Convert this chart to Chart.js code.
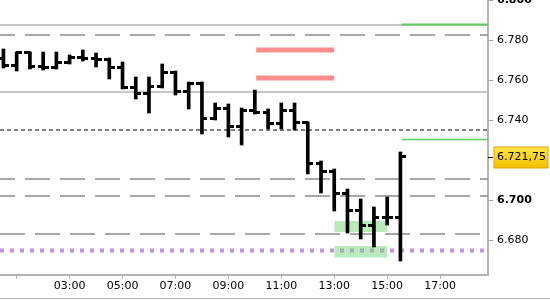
<!DOCTYPE html>
<html>
<head>
<meta charset="utf-8">
<script src="https://cdn.jsdelivr.net/npm/chart.js@4.4.1/dist/chart.umd.min.js"></script>
<style>
  html, body { margin: 0; padding: 0; background: #fff; }
  #wrap { width: 550px; height: 300px; position: relative; overflow: hidden; }
</style>
</head>
<body>
<div id="wrap"><canvas id="chart" width="550" height="300"></canvas></div>
<script>
// 30 min OHLC bars, x = hour of day
var times  = [0.5, 1, 1.5, 2, 2.5, 3, 3.5, 4, 4.5, 5, 5.5, 6, 6.5, 7, 7.5, 8,
              8.5, 9, 9.5, 10, 10.5, 11, 11.5, 12, 12.5, 13, 13.5, 14, 14.5, 15, 15.5];
var opens  = [6771, 6767.5, 6774, 6767, 6766.5, 6769, 6771.5, 6771, 6770.5, 6766.5, 6756.5, 6753.5, 6757, 6764, 6754.5, 6758.5,
              6741, 6746, 6737, 6745, 6744, 6738.5, 6745, 6739, 6718.5, 6714.5, 6703.5, 6695, 6687.5, 6691.5, 6691.5];
var highs  = [6775.5, 6774, 6774, 6774, 6774, 6772.5, 6775, 6773.5, 6771, 6769, 6761.5, 6761.5, 6768, 6764.5, 6759, 6759,
              6748.5, 6748, 6746, 6755, 6745.5, 6748.5, 6748.5, 6739, 6719.5, 6715.5, 6705.5, 6700.5, 6696.5, 6701.5, 6724];
var lows   = [6766, 6764.5, 6765.5, 6765, 6765.5, 6768, 6769.5, 6766.5, 6760.5, 6755.5, 6750.5, 6743.5, 6756, 6752.5, 6745.5, 6733,
              6740, 6731.5, 6727.5, 6743, 6735.5, 6735.5, 6735, 6713, 6703.5, 6694.5, 6683.5, 6680.5, 6676.5, 6687.5, 6669.5];
var closes = [6767.5, 6774, 6767, 6766.5, 6769, 6771.5, 6771, 6770.5, 6766.5, 6756.5, 6753.5, 6757, 6764, 6754.5, 6758.5, 6741,
              6746, 6737, 6745, 6744, 6738.5, 6745, 6739, 6718.5, 6714.5, 6703.5, 6695, 6687.5, 6691.5, 6691.5, 6721.75];

var xStart = 0.37, xEnd = 18.81;
var yMin = 6662.5, yMax = 6800;
var xTickHours = [1, 3, 5, 7, 9, 11, 13, 15, 17];
var yTickValues = [6680, 6700, 6740, 6760, 6780, 6800];

// horizontal levels
var solidLevels  = [6787.5, 6754];
var dashedLevels = [6782.5, 6710.5, 6702, 6683];
var blackDashLevel = 6735;
var purpleLevel = 6674.75;
var pinkLevels = [6775, 6761];
var pinkFrom = 10.05, pinkTo = 13.0;
var greenLevels = [6787.75, 6730.25];
var greenFrom = 15.55;
var boxLows  = [6684, 6671.25];
var boxHighs = [6689.5, 6677];
var boxFrom = 13.0, boxTo = 15.0;

var FONT = "'DejaVu Sans', sans-serif";
Chart.defaults.font.family = FONT;
Chart.defaults.font.size = 11;
Chart.defaults.color = "#000";

function fmt(v, dec) {
  var s = v.toFixed(dec).split(".");
  var whole = s[0].replace(/\B(?=(\d{3})+(?!\d))/g, ".");
  return dec ? whole + "," + s[1] : whole;
}

// open tick on the left, close tick on the right
function tickImage(side) {
  var c = document.createElement("canvas");
  c.width = 11; c.height = 3;
  var g = c.getContext("2d");
  g.fillStyle = "#000";
  if (side === "left") g.fillRect(0, 0, 6, 3);
  else g.fillRect(5, 0, 6, 3);
  return c;
}

function level(y, from, to, style) {
  return {
    type: "line",
    data: [{ x: from, y: y }, { x: to, y: y }],
    borderColor: style.color,
    borderWidth: style.width,
    borderDash: style.dash || [],
    borderDashOffset: style.offset || 0,
    borderCapStyle: "butt",
    pointRadius: 0,
    fill: false,
    order: style.order || 5
  };
}

var datasets = [];

datasets.push({
  type: "scatter",
  data: times.map(function (t, i) { return { x: t, y: opens[i] }; }),
  pointStyle: tickImage("left"), pointRadius: 3, order: 0
});
datasets.push({
  type: "scatter",
  data: times.map(function (t, i) { return { x: t, y: closes[i] }; }),
  pointStyle: tickImage("right"), pointRadius: 3, order: 0
});
datasets.push({
  type: "bar",
  data: times.map(function (t, i) { return { x: t, y: [lows[i], highs[i]] }; }),
  backgroundColor: "#000",
  borderWidth: 0,
  barThickness: 3,
  grouped: false,
  order: 1
});

// green zones: bottom edge, then top edge filled down to it
for (var b = 0; b < boxLows.length; b++) {
  datasets.push({
    type: "line",
    data: [{ x: boxFrom, y: boxLows[b] }, { x: boxTo, y: boxLows[b] }],
    borderWidth: 0, pointRadius: 0, fill: false, order: 2
  });
  datasets.push({
    type: "line",
    data: [{ x: boxFrom, y: boxHighs[b] }, { x: boxTo, y: boxHighs[b] }],
    borderWidth: 0, pointRadius: 0, fill: "-1",
    backgroundColor: "rgba(110, 212, 110, 0.48)", order: 2
  });
}

datasets.push(level(purpleLevel, xStart, xEnd, { color: "rgb(198, 143, 228)", width: 4, dash: [4, 6], order: 3 }));
solidLevels.forEach(function (v) {
  datasets.push(level(v, xStart, xEnd, { color: "#b4b4b4", width: 1.5 }));
});
dashedLevels.forEach(function (v, i) {
  datasets.push(level(v, xStart, xEnd, { color: "#8a8a8a", width: 1.5, dash: [25, 10], offset: i === 3 ? 0 : 10 }));
});
datasets.push(level(blackDashLevel, xStart, xEnd, { color: "#000", width: 1, dash: [4, 3] }));
pinkLevels.forEach(function (v) {
  datasets.push(level(v, pinkFrom, pinkTo, { color: "#ff8e8e", width: 5, order: 4 }));
});
datasets.push(level(greenLevels[0], greenFrom, xEnd, { color: "#5ccf5c", width: 2, order: 4 }));
datasets.push(level(greenLevels[1], greenFrom, xEnd, { color: "#5ccf5c", width: 1.5, order: 4 }));

var lastPricePlugin = {
  id: "lastPrice",
  afterDraw: function (chart) {
    var ctx = chart.ctx;
    var ys = chart.scales.y;
    var last = closes[closes.length - 1];
    var y = Math.round(ys.getPixelForValue(last)) + 0.5;
    var x0 = chart.chartArea.right;
    ctx.save();
    // frame line under the time labels
    ctx.strokeStyle = "#b4b4b4";
    ctx.lineWidth = 1;
    ctx.beginPath();
    ctx.moveTo(0, chart.height - 1.5);
    ctx.lineTo(chart.width, chart.height - 1.5);
    ctx.stroke();
    // tick + yellow label
    ctx.strokeStyle = "#000";
    ctx.beginPath();
    ctx.moveTo(x0, y);
    ctx.lineTo(x0 + 5, y);
    ctx.stroke();
    var g = ctx.createLinearGradient(0, y - 10, 0, y + 10);
    g.addColorStop(0, "#ffe445");
    g.addColorStop(1, "#f5bf00");
    ctx.fillStyle = g;
    ctx.fillRect(x0 + 6, y - 10.5, 54, 21);
    ctx.strokeStyle = "#e3a400";
    ctx.strokeRect(x0 + 6, y - 10.5, 54, 21);
    ctx.fillStyle = "#000";
    ctx.font = "11px " + FONT;
    ctx.textBaseline = "middle";
    ctx.textAlign = "left";
    ctx.fillText(fmt(last, 2), x0 + 9, y);
    ctx.restore();
  }
};

function noPad(s) {
  s.paddingTop = 0; s.paddingBottom = 0; s.paddingLeft = 0; s.paddingRight = 0;
}

new Chart(document.getElementById("chart"), {
  type: "scatter",
  data: { datasets: datasets },
  plugins: [lastPricePlugin],
  options: {
    responsive: false,
    animation: false,
    events: [],
    layout: { autoPadding: false, padding: 0 },
    plugins: { legend: { display: false }, tooltip: { enabled: false } },
    scales: {
      x: {
        type: "linear",
        min: xStart, max: xEnd,
        offset: false,
        afterBuildTicks: function (s) { s.ticks = xTickHours.map(function (h) { return { value: h }; }); },
        afterFit: function (s) { s.height = 25; noPad(s); },
        border: { color: "#b4b4b4", width: 2 },
        grid: { drawOnChartArea: false, offset: false, tickLength: 4, color: "#b4b4b4" },
        ticks: {
          autoSkip: false, maxRotation: 0, padding: 1,
          callback: function (v) {
            if (v === 1) return "";
            return (v < 10 ? "0" : "") + v + ":00";
          }
        }
      },
      y: {
        type: "linear",
        position: "right",
        min: yMin, max: yMax,
        beginAtZero: false,
        afterBuildTicks: function (s) { s.ticks = yTickValues.map(function (v) { return { value: v }; }); },
        afterFit: function (s) { s.width = 62; noPad(s); },
        border: { color: "#b4b4b4", width: 2 },
        grid: { drawOnChartArea: false, tickLength: 5, color: "#a0a0a0" },
        ticks: {
          autoSkip: false, padding: 4,
          font: function (c) {
            var v = c.tick ? c.tick.value : 0;
            return { family: FONT, size: 11, weight: v % 100 === 0 ? "bold" : "normal" };
          },
          callback: function (v) { return fmt(v, 0); }
        }
      }
    }
  }
});
</script>
</body>
</html>
